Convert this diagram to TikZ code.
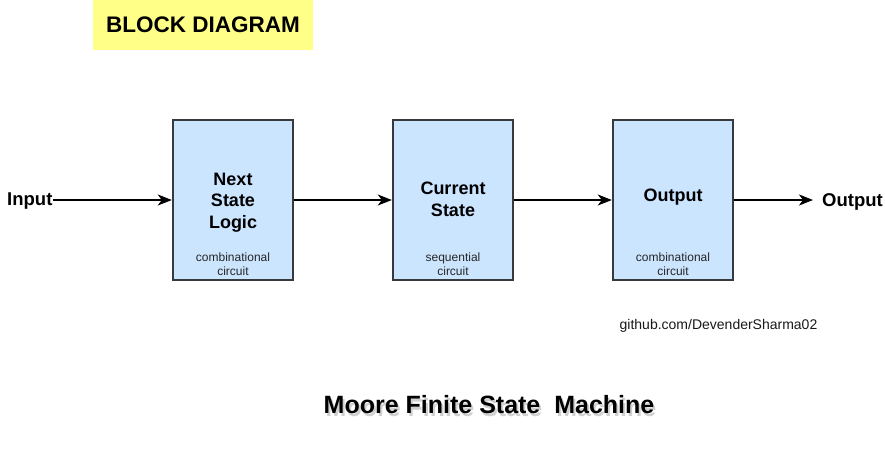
\documentclass[tikz,border=0pt]{standalone}
\usepackage{fontspec}
\setmainfont{Liberation Sans}
\usetikzlibrary{arrows.meta}
\definecolor{boxfill}{HTML}{CCE5FF}
\definecolor{boxline}{HTML}{36393D}
\definecolor{titlefill}{HTML}{FFFF88}
\tikzset{
  blockbox/.style={draw=boxline, line width=2.4pt, fill=boxfill, minimum width=120pt, minimum height=160pt, inner sep=0pt},
  mainlbl/.style={font=\fontsize{18}{21.5}\selectfont\bfseries, align=center, inner sep=0pt},
  sublbl/.style={font=\fontsize{12}{14}\selectfont, align=center, inner sep=0pt, text=black!85},
  conn/.style={line width=1.7pt, -{Stealth[length=14pt,width=11pt,inset=4pt]}},
  iolbl/.style={font=\fontsize{18.5}{22}\selectfont\bfseries, inner sep=0pt}
}
\begin{document}
\begin{tikzpicture}[x=1pt,y=-1pt]
\useasboundingbox (0,0) rectangle (885,448);
\fill[white] (0,0) rectangle (885,448);
% title
\node[fill=titlefill, minimum width=220pt, minimum height=50pt, inner sep=0pt, font=\fontsize{22.5}{26}\selectfont\bfseries] (title) at (203,25) {BLOCK DIAGRAM};
% blocks
\node[blockbox] (nsl) at (233,200) {};
\node[blockbox] (cs) at (453,200) {};
\node[blockbox] (out) at (673,200) {};
\node[mainlbl] (nslt) at (233,202.5) {Next\\State\\Logic};
\node[mainlbl] (cst) at (453,199.5) {Current\\State};
\node[mainlbl] (outt) at (673,197) {Output};
\node[sublbl] (nsls) at (233,264) {combinational\\circuit};
\node[sublbl] (css) at (453,264) {sequential\\circuit};
\node[sublbl] (outs) at (673,264) {combinational\\circuit};
% io
\node[iolbl, anchor=west] (inp) at (7,201) {Input};
\node[iolbl, anchor=west] (outp) at (822,202) {Output};
\coordinate (inend) at (53,200);
\coordinate (outend) at (813,200);
\draw[conn] (inend) -- (nsl.west);
\draw[conn] (nsl.east) -- (cs.west);
\draw[conn] (cs.east) -- (out.west);
\draw[conn] (out.east) -- (outend);
% credit
\node[font=\fontsize{14}{16}\selectfont, inner sep=0pt, text=black!90] (gh) at (718.5,326) {github.com/DevenderSharma02};
% bottom title with shadow
\node[font=\fontsize{25}{29}\selectfont\bfseries, inner sep=0pt, text=black!30, opacity=0.6] (mshadow) at (491,408) {Moore Finite State\ \ Machine};
\node[font=\fontsize{25}{29}\selectfont\bfseries, inner sep=0pt] (moore) at (489,405) {Moore Finite State\ \ Machine};
\end{tikzpicture}
\end{document}
